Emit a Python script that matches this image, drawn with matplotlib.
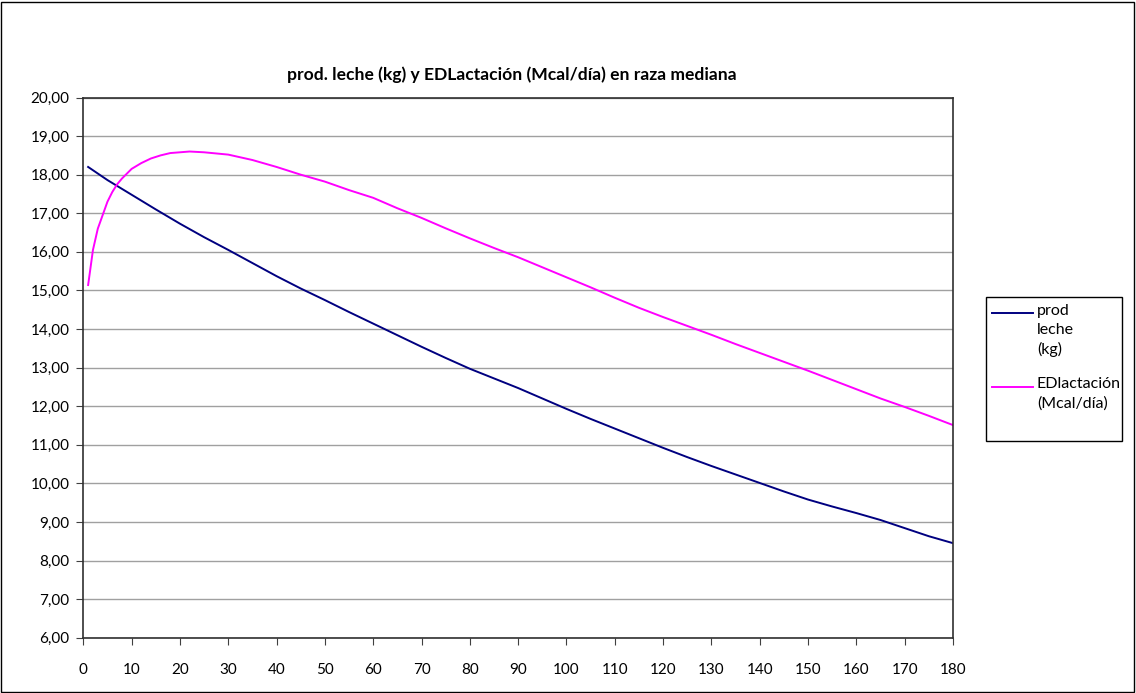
import matplotlib.pyplot as plt
from matplotlib.lines import Line2D
from matplotlib.patches import Rectangle
from matplotlib.ticker import FuncFormatter

# días de lactación
dias_leche = [1, 5, 10, 15, 20, 25, 30, 35, 40, 45, 50, 55, 60, 65, 70, 75, 80, 85,
              90, 95, 100, 105, 110, 115, 120, 125, 130, 135, 140, 145, 150, 155,
              160, 165, 170, 175, 180]
prod_leche = [18.20, 17.86, 17.48, 17.10, 16.73, 16.38, 16.05, 15.71, 15.37, 15.05,
              14.75, 14.44, 14.14, 13.84, 13.54, 13.25, 12.97, 12.72, 12.47, 12.20,
              11.93, 11.67, 11.42, 11.17, 10.92, 10.68, 10.45, 10.23, 10.01, 9.79,
              9.58, 9.40, 9.23, 9.05, 8.84, 8.63, 8.45]

dias_ed = [1, 2, 3, 4, 5, 6, 7, 8, 10, 12, 14, 16, 18, 20, 22, 25, 30, 35, 40, 45,
           50, 55, 60, 65, 70, 75, 80, 85, 90, 95, 100, 105, 110, 115, 120, 125,
           130, 135, 140, 145, 150, 155, 160, 165, 170, 175, 180]
ed_lactacion = [15.14, 16.05, 16.60, 16.95, 17.30, 17.55, 17.75, 17.90, 18.15, 18.30,
                18.42, 18.50, 18.56, 18.58, 18.60, 18.58, 18.52, 18.38, 18.20, 18.00,
                17.82, 17.60, 17.40, 17.13, 16.88, 16.61, 16.35, 16.10, 15.86, 15.60,
                15.34, 15.08, 14.81, 14.55, 14.31, 14.08, 13.85, 13.61, 13.38, 13.15,
                12.92, 12.68, 12.44, 12.20, 11.98, 11.75, 11.51]

titulo = "prod. leche (kg) y EDLactación (Mcal/día) en raza mediana"
etiquetas = ["prod\nleche\n(kg)", "EDlactación\n(Mcal/día)"]
colores = ["#000080", "#FF00FF"]

plt.rcParams['font.family'] = ['Lato', 'DejaVu Sans']

W, H = 1136, 693
fig = plt.figure(figsize=(W / 100, H / 100), dpi=100)
ax = fig.add_axes([83.3 / W, 1 - 637.7 / H, (953 - 83.3) / W, (637.7 - 97.5) / H])

ax.plot(dias_leche, prod_leche, color=colores[0], lw=1.4)
ax.plot(dias_ed, ed_lactacion, color=colores[1], lw=1.4)

ax.set_xlim(0, 180)
ax.set_ylim(6, 20)
ax.set_xticks(range(0, 181, 10))
ax.set_yticks(range(6, 21))
ax.yaxis.set_major_formatter(FuncFormatter(lambda v, p: f"{v:.2f}".replace('.', ',')))
ax.grid(axis='y', color='#a0a0a0', lw=1)
ax.set_axisbelow(True)
ax.tick_params(axis='y', direction='out', length=5, pad=5, labelsize=11, color='#404040')
ax.tick_params(axis='x', direction='out', length=5, pad=13, labelsize=11, color='#404040')
for s in ax.spines.values():
    s.set_color('#303030')
    s.set_linewidth(1.2)

fig.text(512 / W, 1 - 75 / H, titulo, ha='center', va='center', fontsize=12.6, fontweight='bold')

# borde exterior del gráfico
fig.add_artist(Rectangle((1 / W, 1 / H), (W - 3) / W, (H - 3) / H, transform=fig.transFigure,
                         fill=False, ec='black', lw=1))

# leyenda
fig.add_artist(Rectangle((986 / W, 1 - 441 / H), (1122 - 986) / W, (441 - 297) / H,
                         transform=fig.transFigure, fill=False, ec='black', lw=1))
for i, (yl, yt) in enumerate([(313.5, 304), (386.5, 377)]):
    fig.add_artist(Line2D([992 / W, 1033 / W], [1 - yl / H, 1 - yl / H],
                          transform=fig.transFigure, color=colores[i], lw=1.4))
    fig.text(1037 / W, 1 - yt / H, etiquetas[i], ha='left', va='top', fontsize=11.5,
             linespacing=1.45)

fig.savefig('out.png', dpi=100)
